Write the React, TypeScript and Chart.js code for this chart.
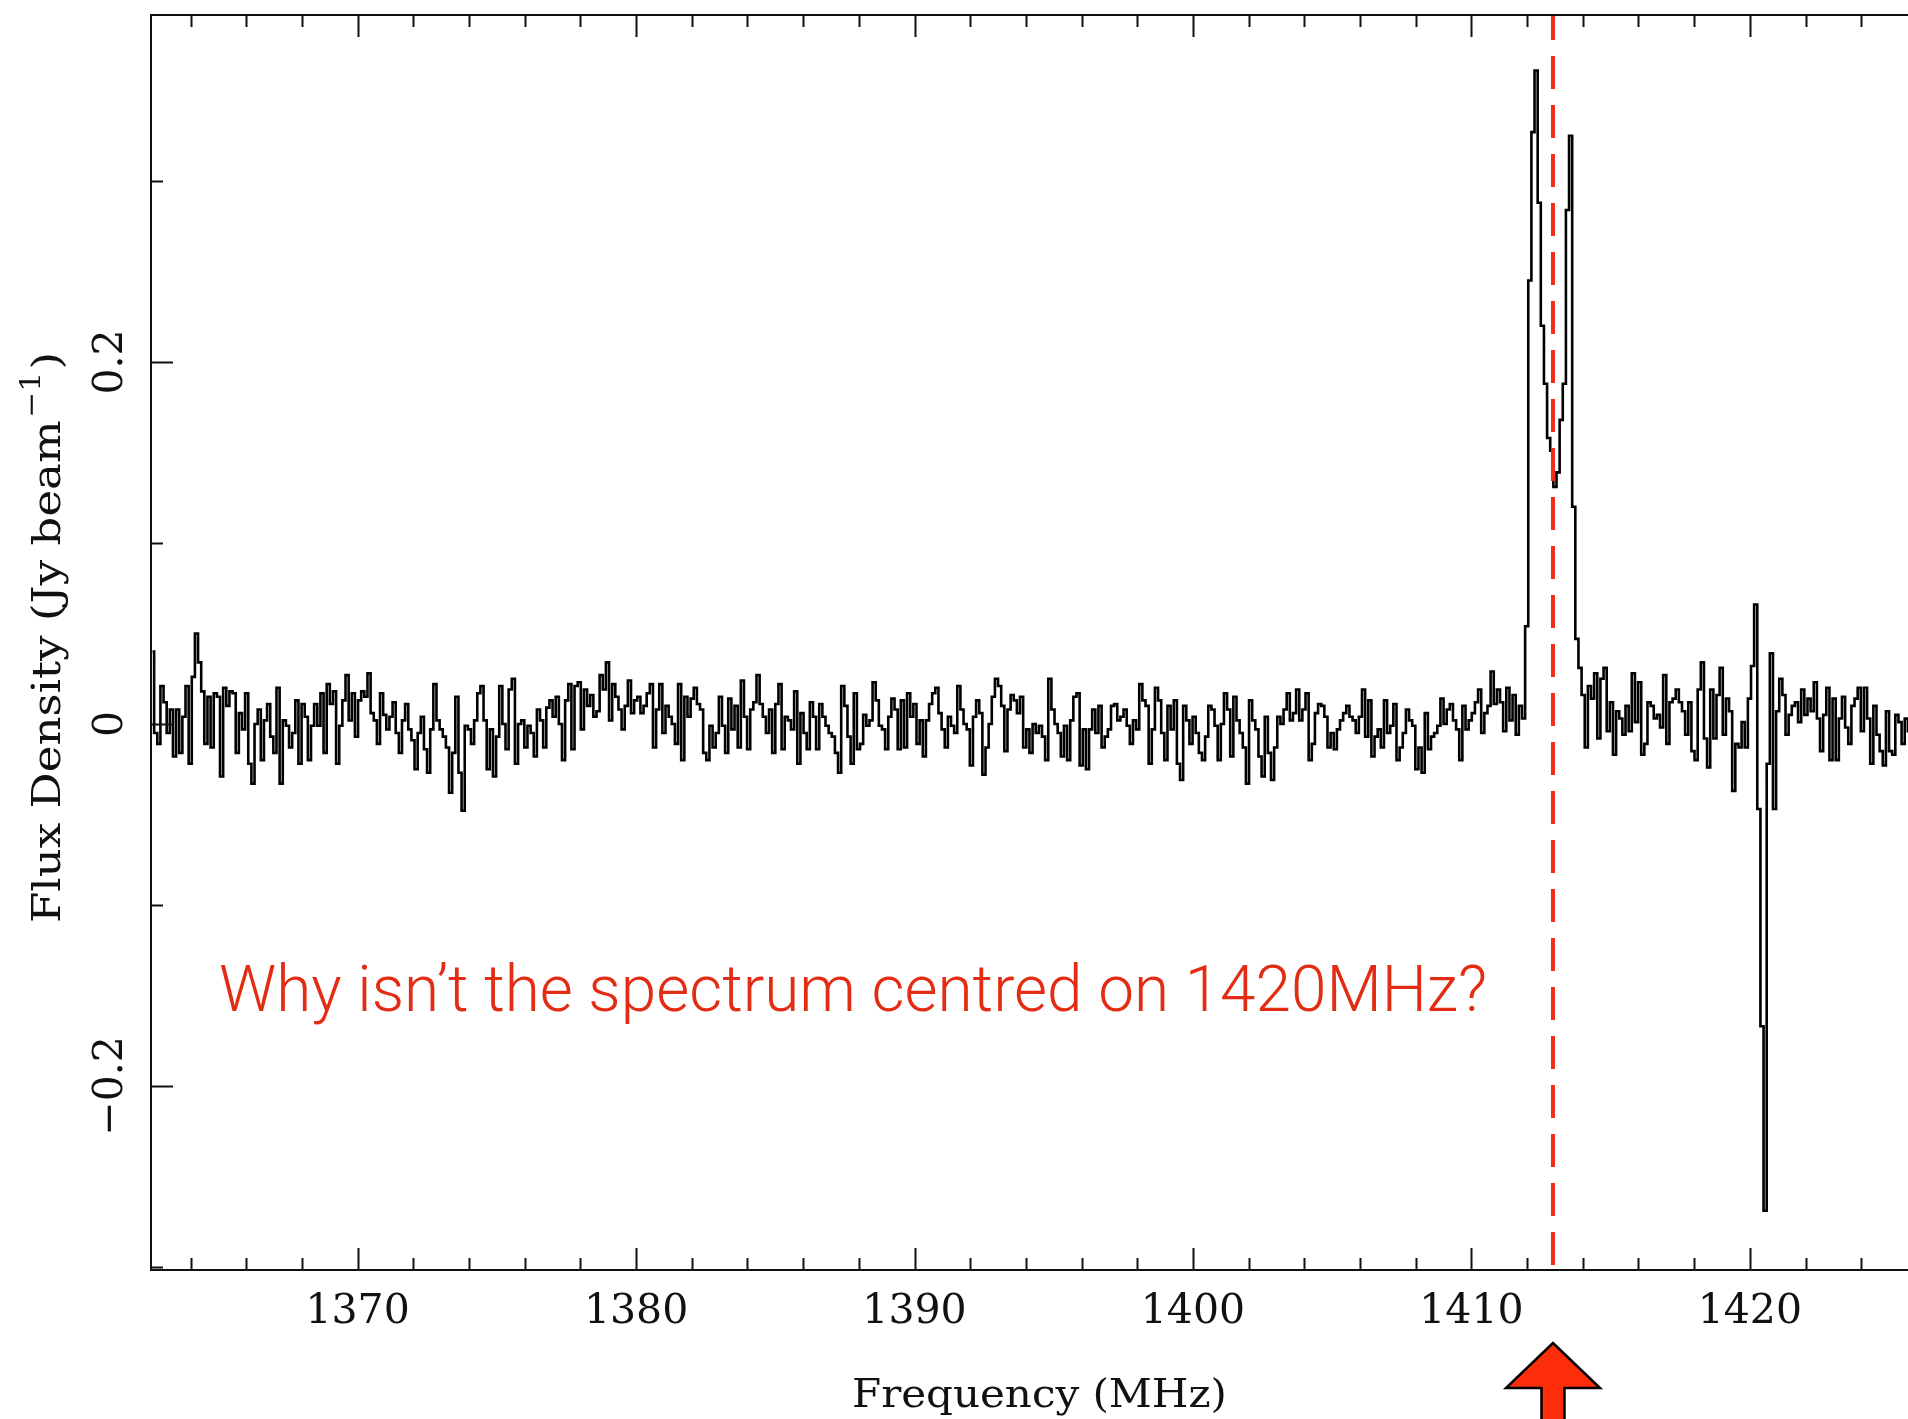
import React, { useEffect, useRef } from "react";
import { Chart, registerables } from "chart.js";

Chart.register(...registerables);

// ---- axis ranges and ticks ----
const X_MIN = 1362.58;
const X_MAX = 1426.47;
const Y_MIN = -0.3017;
const Y_MAX = 0.3917;
const X_MAJOR_TICKS = [1370, 1380, 1390, 1400, 1410, 1420];
const X_TICK_LABELS = ["1370", "1380", "1390", "1400", "1410", "1420"];
const X_MINOR_TICKS = [1364, 1366, 1368, 1372, 1374, 1376, 1378, 1382, 1384, 1386, 1388, 1392, 1394, 1396, 1398, 1402, 1404, 1406, 1408, 1412, 1414, 1416, 1418, 1422, 1424, 1426];
const Y_MAJOR_TICKS = [-0.2, 0, 0.2];
const Y_TICK_LABELS = ["\u22120.2", "0", "0.2"];
const Y_MINOR_TICKS = [-0.3, -0.1, 0.1, 0.3];
const X_TITLE = "Frequency (MHz)";
const Y_TITLE = "Flux Density (Jy beam";
const Y_TITLE_SUP = "\u22121";
const ANNOTATION = "Why isn\u2019t the spectrum centred on 1420MHz?";
const MARKED_FREQ = 1412.93; // red dashed line

// ---- spectrum: channel grid ----
const FREQ_START_MHZ = 1362.58;
const CHANNEL_WIDTH_MHZ = 0.11267;

// ---- spectrum values (Jy/beam), read channel by channel ----
const FLUX_1362_1378 = [
  0.040, -0.005, -0.011, 0.021, 0.012, -0.005, 0.008, -0.018, 0.008, -0.016,
  0.004, 0.021, -0.022, 0.026, 0.050, 0.034, 0.018, -0.011, 0.015, -0.013,
  0.017, 0.015, -0.029, 0.020, 0.010, 0.018, 0.017, -0.016, 0.006, -0.003,
  0.017, -0.022, -0.033, 0.000, 0.008, -0.020, 0.002, 0.011, -0.007, -0.016,
  0.020, -0.033, 0.002, -0.001, -0.013, -0.005, 0.013, -0.022, 0.011, 0.004,
  -0.020, -0.001, 0.011, -0.001, 0.017, -0.016, 0.022, 0.011, 0.018, -0.022,
  -0.001, 0.013, 0.027, 0.002, 0.017, -0.007, 0.013, 0.018, 0.015, 0.028,
  0.006, 0.002, -0.011, 0.017, 0.005, -0.003, 0.004, 0.012, -0.005, -0.016,
  0.002, 0.011, -0.003, -0.009, -0.025, -0.005, 0.004, -0.014, -0.027, -0.003,
  0.022, 0.002, -0.003, -0.007, -0.013, -0.038, -0.016, 0.015, -0.027, -0.048,
  -0.001, -0.003, -0.011, 0.002, 0.017, 0.021, 0.002, -0.025, -0.003, -0.029,
  -0.007, 0.021, 0.000, -0.014, 0.019, 0.025, -0.022, 0.000, 0.002, -0.013,
  -0.001, -0.005, -0.018, 0.008, 0.002, -0.013, 0.009, 0.013, 0.004, 0.015,
  0.000, -0.020, 0.013, 0.022, -0.014, 0.021, 0.023, -0.003, 0.019, 0.010,
  0.016, 0.004, 0.007,
];

const FLUX_1378_1394 = [
  0.027, 0.019, 0.034, 0.002, 0.022, 0.015, 0.008, -0.003, 0.010, 0.024,
  0.006, 0.013, 0.015, 0.006, 0.010, 0.017, 0.022, -0.013, 0.008, 0.022,
  -0.005, 0.010, 0.004, 0.000, -0.011, 0.022, -0.020, 0.015, 0.004, 0.014,
  0.020, 0.011, 0.008, -0.016, -0.020, -0.001, -0.013, -0.005, 0.015, -0.001,
  -0.016, 0.014, -0.003, 0.010, -0.013, 0.024, 0.004, -0.014, 0.008, 0.012,
  0.027, 0.011, 0.004, -0.005, 0.008, -0.016, 0.011, 0.022, -0.014, 0.004,
  0.002, -0.003, 0.018, -0.022, 0.006, -0.005, -0.014, 0.012, 0.004, -0.014,
  0.011, 0.004, -0.001, -0.005, -0.007, -0.016, -0.027, 0.021, 0.010, -0.007,
  -0.022, 0.017, -0.014, -0.011, 0.005, -0.001, 0.002, 0.023, 0.013, -0.001,
  -0.003, -0.014, 0.004, 0.014, 0.008, -0.014, 0.013, -0.013, 0.017, 0.004,
  0.011, -0.011, 0.002, -0.018, 0.002, 0.011, 0.017, 0.020, 0.006, -0.003,
  -0.013, 0.004, -0.001, -0.005, 0.021, 0.008, 0.000, -0.003, -0.023, 0.004,
  0.013, 0.006, -0.028, -0.013, 0.000, 0.015, 0.025, 0.021, 0.010, -0.015,
  0.008, 0.016, 0.013, 0.006, 0.015, -0.013, -0.003, -0.016, 0.000, -0.005,
  -0.001, -0.007, -0.020,
];

const FLUX_1394_1410 = [
  0.025, 0.008, 0.000, -0.005, -0.018, -0.001, -0.020, 0.002, 0.015, 0.017,
  -0.023, -0.003, -0.025, -0.003, 0.008, -0.005, 0.010, -0.013, -0.007, -0.003,
  0.010, 0.011, 0.002, 0.004, 0.008, -0.001, -0.011, 0.002, -0.003, 0.022,
  0.013, 0.010, -0.022, -0.003, 0.020, 0.013, -0.005, -0.020, 0.010, -0.003,
  0.013, -0.022, -0.031, 0.010, 0.002, -0.011, 0.004, -0.005, -0.016, -0.020,
  -0.007, 0.010, 0.008, -0.001, -0.020, 0.000, 0.017, 0.008, -0.018, 0.015,
  0.002, -0.005, -0.013, -0.033, 0.013, 0.002, -0.003, -0.018, -0.029, 0.004,
  -0.016, -0.031, -0.013, 0.004, 0.000, 0.008, 0.017, 0.002, 0.006, 0.019,
  0.002, 0.008, 0.017, -0.020, -0.011, 0.006, 0.011, 0.010, 0.004, -0.013,
  -0.005, -0.014, -0.003, 0.002, 0.006, 0.010, 0.004, 0.002, -0.005, 0.004,
  0.019, -0.007, 0.013, -0.018, -0.007, -0.003, -0.013, 0.013, -0.005, -0.001,
  0.011, -0.020, -0.013, -0.005, 0.008, 0.002, -0.001, -0.025, -0.013, -0.027,
  0.006, -0.014, -0.007, -0.005, -0.001, 0.014, 0.000, 0.008, 0.011, 0.002,
  -0.003, -0.020, 0.010, -0.003, 0.002, 0.006, 0.012, 0.019, -0.005, 0.006,
  0.010, 0.029, 0.011, 0.019,
];

const FLUX_1410_1415 = [
  0.012, -0.004, 0.020, 0.002, 0.016, -0.006, 0.010, 0.003,
  0.054, 0.245, 0.327, 0.361, 0.288, 0.220, 0.188, 0.158, 0.151, 0.131,
  0.139, 0.168, 0.188, 0.284, 0.325, 0.120, 0.047,
];

const FLUX_1415_1421 = [
  0.031, 0.016, -0.013, 0.021, 0.014, 0.028, -0.008, 0.025, 0.031, -0.004,
  0.012, -0.017, 0.007, 0.003, -0.006, 0.010, -0.004, 0.028, 0.001, 0.023,
  -0.017, -0.011, 0.012, 0.010, 0.003, 0.005, -0.002, 0.027, -0.011, 0.012,
  0.014, 0.019, 0.012, 0.007, -0.006, 0.012, -0.015, -0.020, 0.019, 0.034,
  -0.008, -0.024, 0.019, -0.008, 0.016, 0.031, -0.006, 0.014, 0.007, -0.037,
  -0.011, -0.013, 0.001, -0.013, 0.014, 0.032,
  0.066, -0.047, -0.167, -0.269, -0.022,
];

const FLUX_1421_1426 = [
  0.039, -0.047, 0.007, 0.025, 0.016, -0.006, 0.005, 0.010, 0.012, 0.001,
  0.019, 0.005, 0.014, 0.007, 0.023, 0.003, -0.015, 0.005, 0.020, -0.020,
  0.014, -0.020, 0.003, 0.015, -0.002, -0.011, 0.010, 0.014, 0.020, -0.004,
  0.020, 0.003, -0.022, 0.010, -0.006, -0.015, -0.023, 0.007, -0.015, -0.017,
  0.005, 0.001, -0.011, 0.003, -0.004, 0.005, 0.012, -0.002, 0.008, -0.006,
  0.004,
];

const FLUX = [
  ...FLUX_1362_1378,
  ...FLUX_1378_1394,
  ...FLUX_1394_1410,
  ...FLUX_1410_1415,
  ...FLUX_1415_1421,
  ...FLUX_1421_1426,
];

const SERIF = "'DejaVu Serif', serif";
const INK = "#111111";
const RED_LINE = "#f42d1a";
const RED_TEXT = "#e32c14";
const ARROW_FILL = "#ff2e0a";

function fitText(
  ctx: CanvasRenderingContext2D,
  text: string,
  x: number,
  y: number,
  targetWidth: number,
  align: "left" | "center"
) {
  const w = ctx.measureText(text).width;
  const s = targetWidth / w;
  ctx.save();
  ctx.translate(x, y);
  ctx.scale(s, 1);
  ctx.textAlign = align;
  ctx.fillText(text, 0, 0);
  ctx.restore();
}

const framePlugin = {
  id: "pgplotFrame",
  afterDatasetsDraw(chart: any) {
    const ctx: CanvasRenderingContext2D = chart.ctx;
    const { left, right, top, bottom } = chart.chartArea;
    const xs = chart.scales.x;
    const ys = chart.scales.y;
    const MAJ = 22;
    const MIN = 12;

    ctx.save();
    // red dashed line (marked frequency)
    const lx = xs.getPixelForValue(MARKED_FREQ);
    ctx.strokeStyle = RED_LINE;
    ctx.lineWidth = 4;
    ctx.setLineDash([33, 16]);
    ctx.beginPath();
    ctx.moveTo(lx, bottom - 5);
    ctx.lineTo(lx, top);
    ctx.stroke();
    ctx.setLineDash([]);

    // frame
    ctx.strokeStyle = INK;
    ctx.lineWidth = 2;
    ctx.strokeRect(left, top, right - left, bottom - top);

    // ticks
    ctx.beginPath();
    const xTick = (v: number, len: number) => {
      const p = Math.round(xs.getPixelForValue(v)) + 0.5;
      ctx.moveTo(p, bottom);
      ctx.lineTo(p, bottom - len);
      ctx.moveTo(p, top);
      ctx.lineTo(p, top + len);
    };
    const yTick = (v: number, len: number) => {
      const p = Math.round(ys.getPixelForValue(v)) + 0.5;
      ctx.moveTo(left, p);
      ctx.lineTo(left + len, p);
      ctx.moveTo(right, p);
      ctx.lineTo(right - len, p);
    };
    X_MAJOR_TICKS.forEach((v) => xTick(v, MAJ));
    X_MINOR_TICKS.forEach((v) => xTick(v, MIN));
    Y_MAJOR_TICKS.forEach((v) => yTick(v, MAJ));
    Y_MINOR_TICKS.forEach((v) => yTick(v, MIN));
    ctx.stroke();

    // tick labels
    ctx.fillStyle = INK;
    ctx.font = `41px ${SERIF}`;
    ctx.textBaseline = "alphabetic";
    ctx.textAlign = "center";
    X_MAJOR_TICKS.forEach((v, i) => {
      ctx.fillText(X_TICK_LABELS[i], xs.getPixelForValue(v), bottom + 53);
    });
    Y_MAJOR_TICKS.forEach((v, i) => {
      ctx.save();
      ctx.translate(left - 29, ys.getPixelForValue(v));
      ctx.rotate(-Math.PI / 2);
      ctx.textAlign = "center";
      ctx.fillText(Y_TICK_LABELS[i], 0, 0);
      ctx.restore();
    });

    // x title
    ctx.font = `39px ${SERIF}`;
    fitText(ctx, X_TITLE, 1039.5, bottom + 137, 375, "center");

    // y title (rotated, with superscript)
    ctx.save();
    ctx.translate(60, 923);
    ctx.rotate(-Math.PI / 2);
    ctx.font = `39px ${SERIF}`;
    const mainW = ctx.measureText(Y_TITLE).width;
    ctx.font = `27px ${SERIF}`;
    const supW = ctx.measureText(Y_TITLE_SUP).width;
    ctx.font = `39px ${SERIF}`;
    const closeW = ctx.measureText(")").width;
    const total = mainW + supW + 4 + closeW;
    const s = 571 / total;
    ctx.scale(s, 1);
    ctx.textAlign = "left";
    ctx.fillText(Y_TITLE, 0, 0);
    ctx.font = `27px ${SERIF}`;
    ctx.fillText(Y_TITLE_SUP, mainW + 2, -20);
    ctx.font = `39px ${SERIF}`;
    ctx.fillText(")", mainW + supW + 4, 0);
    ctx.restore();

    // annotation
    ctx.fillStyle = RED_TEXT;
    ctx.font = `300 65px Roboto, 'Open Sans', sans-serif`;
    ctx.textBaseline = "alphabetic";
    fitText(ctx, ANNOTATION, 219, 1011, 1268, "left");

    // arrow pointing at the marked frequency
    const tipY = bottom + 73;
    const baseY = bottom + 118;
    ctx.beginPath();
    ctx.moveTo(lx, tipY);
    ctx.lineTo(lx + 47, baseY);
    ctx.lineTo(lx + 11.5, baseY);
    ctx.lineTo(lx + 11.5, baseY + 60);
    ctx.lineTo(lx - 11.5, baseY + 60);
    ctx.lineTo(lx - 11.5, baseY);
    ctx.lineTo(lx - 47, baseY);
    ctx.closePath();
    ctx.fillStyle = ARROW_FILL;
    ctx.fill();
    ctx.strokeStyle = "#000";
    ctx.lineWidth = 2.5;
    ctx.lineJoin = "miter";
    ctx.stroke();
    ctx.restore();
  },
};

export default function App() {
  const ref = useRef<HTMLCanvasElement | null>(null);
  useEffect(() => {
    if (!ref.current) return;
    const points = FLUX.map((y, i) => ({
      x: FREQ_START_MHZ + (i + 0.5) * CHANNEL_WIDTH_MHZ,
      y,
    }));
    const chart = new Chart(ref.current, {
      type: "line",
      data: {
        datasets: [
          {
            data: points,
            borderColor: "#000",
            borderWidth: 2.6,
            pointRadius: 0,
            stepped: "middle",
            fill: false,
          },
        ],
      },
      options: {
        responsive: false,
        animation: false,
        devicePixelRatio: 1,
        layout: { padding: { left: 151, top: 15, right: 30, bottom: 149 } },
        plugins: { legend: { display: false }, tooltip: { enabled: false } },
        scales: {
          x: { type: "linear", min: X_MIN, max: X_MAX, display: false },
          y: { type: "linear", min: Y_MIN, max: Y_MAX, display: false },
        },
      },
      plugins: [framePlugin],
    });
    return () => chart.destroy();
  }, []);
  return (
    <div
      style={{
        position: "fixed",
        left: 0,
        top: 0,
        width: 1908,
        height: 1419,
        overflow: "hidden",
        background: "#fff",
      }}
    >
      <canvas ref={ref} width={1960} height={1419} style={{ display: "block" }} />
    </div>
  );
}
